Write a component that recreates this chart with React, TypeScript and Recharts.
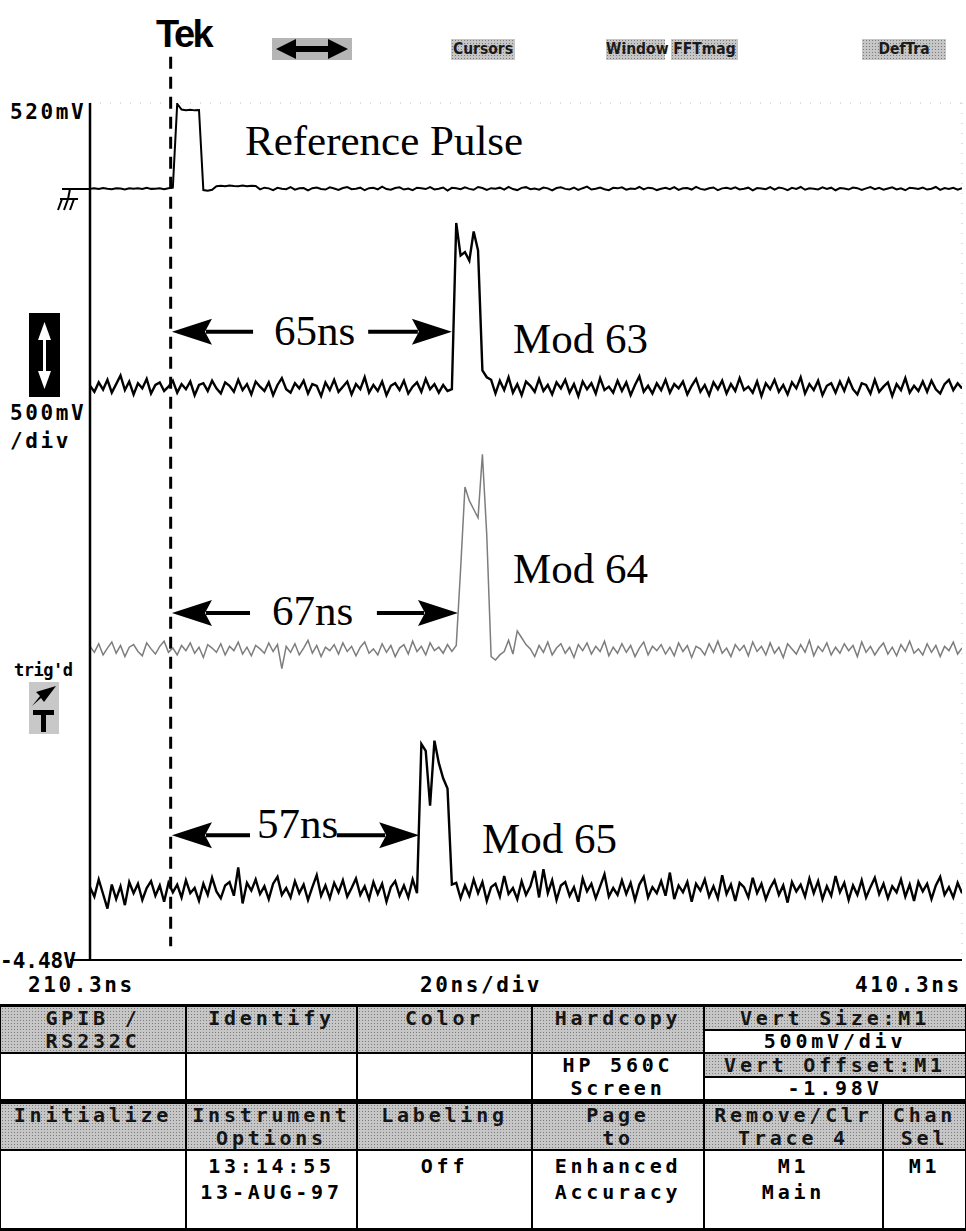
import { LineChart, Line, XAxis, YAxis, CartesianGrid, ReferenceLine } from 'recharts';

// record: 201 samples, 1 ns apart, starting at the left edge of the screen
const START_NS = 210.3;
const STEP_NS = 1;

const xTicks = [210.3, 230.3, 250.3, 270.3, 290.3, 310.3, 330.3, 350.3, 370.3, 390.3, 410.3];
const yTicks = [-4480, -3980, -3480, -2980, -2480, -1980, -1480, -980, -480, 20, 520];

// trace positions on screen (mV), traces below are read relative to these
const REF_BASE = 20;
const MOD63_BASE = -1140;
const MOD64_BASE = -2670;
const MOD65_BASE = -4070;

const refTrace = [
  0, 3, -2, 4, 0, -3, 2, 1, -4, 3,
  0, 2, -2, 5, -1, 0, 3, -3, 2, 6,
  495, 462, 458, 460, 457, 459,
  -8, -12, -6, 15, 17, 14, 18, 16, 15, 19, 14, 17, 16,
  -4, 6, 2, -8, 5, 0, -3, 9, -6, 2,
  4, -10, 3, 7, -2, -5, 8, 1, -7, 4,
  10, -3, 0, 6, -9, 3, 5, -4, 12, -2,
  -6, 4, 8, -5, 1, -8, 6, 3, -2, 9,
  -4, 0, 7, -11, 5, 2, -3, 8, -1, -6,
  10, 4, -7, 3, 0, 6, -5, 11, -2, -8,
  5, 9, -3, 1, -6, 7, 2, -10, 4, 8,
  -1, -4, 6, -7, 3, 12, -5, 0, 7, -3,
  -9, 5, 2, 8, -6, 1, -2, 10, -4, 6,
  3, -8, 0, 5, -3, 9, -7, 2, 4, -5,
  11, -1, -6, 3, 7, -9, 2, 5, -2, 8,
  -4, 0, 6, -10, 4, 1, -3, 9, -5, 7,
  2, -8, 5, -1, 10, -6, 3, 0, -4, 8,
  -2, 6, -9, 4, 1, -5, 7, 3, -7, 2,
  9, -3, 5, -6, 1, 8, -4, 2, -9, 6,
  3, -2, 7, -5, 0, 10, -7, 4, -1, 5,
  -6, 3,
];

const mod63Trace = [
  10, -25, 30, -12, 45, -30, 20, 70, -15, 35,
  -40, 25, -5, 50, -35, 15, 30, -20, 5, 40,
  -30, 20, -10, 35, -45, 15, 25, -20, 40, -5,
  -35, 30, 10, -25, 45, -15, 20, -40, 35, 5,
  -20, 30, -45, 15, 55, -10, -30, 25, -5, 40,
  -35, 20, 10, -50, 30, -15, 45, -25, 5, 35,
  -40, 20, -10, 60, -30, 15, -20, 35, -45, 10,
  25, -15, 40, -35, 5, 30, -25, 50, -10, 20,
  -30, 15, -20, -10,
  960, 770, 790, 740, 910, 800, 100,
  60, 45, -35, 40, -15, 60, -30, 20, -45, 35,
  10, -25, 50, -20, 15, -40, 30, -5, 45, -30,
  20, -50, 35, -10, 25, -35, 55, -15, 5, -30,
  40, -20, 30, -45, 15, 65, -25, 10, -35, 25,
  -15, 45, -30, 20, -5, 35, -40, 10, 50, -25,
  15, -45, 30, -10, 40, -35, 20, -20, 55, -15,
  5, -30, 35, -50, 25, -10, 45, -25, 15, -40,
  30, -5, 60, -35, 20, -15, 40, -45, 10, 25,
  -30, 35, -20, 50, -10, -40, 25, 15, -35, 45,
  -25, 5, 30, -50, 20, -15, 55, -30, 10, -20,
  35, -25, 40, -10, -35, 20, 45, -15, 25, -5,
];

const mod64Trace = [
  20, -15, 35, -30, 10, 45, -20, 25, -40, 15,
  30, -10, -35, 40, 5, -25, 20, 50, -15, 10,
  -30, 25, -5, 40, -20, 15, -45, 30, 10, -15,
  35, -30, 20, -5, 45, -25, 15, -35, 25, 5,
  -20, 40, -10, 30, -110, 20, -15, 35, -30, 10,
  55, -20, 25, -40, 15, -5, 30, -25, 40, -10,
  20, -35, 15, 45, -20, 5, -30, 35, -15, 25,
  -40, 10, 30, -25, 50, -10, 20, -30, 40, -5,
  15, -20, 30, -10, 25,
  470, 950, 870, 820, 770, 1140, 670, -40,
  -60, -30, -10, 55, -25, 110, 70, 30, 5, -40,
  25, -15, 45, -30, 10, 35, -20, 15, -45, 30,
  -5, 40, -25, 20, -10, 50, -35, 15, -20, 35,
  -15, 25, -40, 10, 45, -30, 20, -5, 30, -25,
  15, -35, 40, -10, 25, -45, 20, 5, -30, 35,
  -15, 50, -20, 10, -40, 30, -5, 25, -35, 45,
  -10, 20, -30, 40, -20, 15, -45, 35, 5, -25,
  30, -15, 55, -35, 20, -10, 40, -30, 15, -20,
  35, -5, 25, -40, 45, -15, 20, -30, 10, 40,
  -25, 15, -35, 30, -10, 50, -20, 5, -30, 35,
  -15, 25, -40, 20, -5, 45, -25, 10,
];

const mod65Trace = [
  15, -40, 60, -25, -110, 30, -55, 20, -90, 45,
  -20, 35, -60, 10, 50, -35, 25, -70, 40, -15,
  30, -45, 55, -20, 10, -65, 35, -30, 70, -10,
  -50, 25, 45, -35, 130, -80, 40, -5, 60, -25,
  20, -55, 35, 75, -30, 10, -45, 50, -20, 30,
  -60, 15, 85, -35, 25, -50, 40, -15, 55, -40,
  10, 65, -30, 20, -55, 45, -25, 35, -70, 15,
  50, -35, 25, -45, 60, -20,
  850, 810, 490, 870, 740, 650, 590,
  30, 40, -50, 25, -35, 60, -20, 45, -65, 15,
  35, -40, 80, -25, 10, -55, 50, -30, 20, 110,
  -45, 120, -20, 55, -60, 25, 45, -35, 15, -70,
  65, -10, 35, -50, 20, 90, -40, 10, -30, 55,
  -25, 40, -60, 30, 75, -45, 15, -20, 50, -35,
  100, -55, 25, -15, 45, -70, 35, -5, 60, -40,
  20, -50, 85, -25, 30, -65, 40, 15, -45, 70,
  -20, 35, -55, 10, 55, -30, 25, -75, 45, -10,
  30, -40, 65, -20, 50, -55, 20, -35, 80, -15,
  40, -60, 25, -30, 55, -45, 15, 70, -25, 35,
  -50, 20, -15, 60, -40, 30, -65, 45, -10, 35,
  -55, 25, 75, -30, 15, -45, 40, -20,
];

// cursor and delay measurements
const CURSOR_NS = 228.8;
const CURSOR_TOP_MV = 790;
const CURSOR_BOTTOM_MV = -4400;
const spanLabels = ['65ns', '67ns', '57ns'];
const spanEndNs = [293.3, 294.7, 285.8];
const spanLevelMv = [-815, -2455, -3752];
const gapStartNs = [247.7, 247.0, 247.0];
const gapEndNs = [274.1, 276.1, 266.9];

const data = refTrace.map((v, i) => ({
  t: Math.round((START_NS + i * STEP_NS) * 10) / 10,
  ref: REF_BASE + v,
  mod63: MOD63_BASE + mod63Trace[i],
  mod64: MOD64_BASE + mod64Trace[i],
  mod65: MOD65_BASE + mod65Trace[i],
}));

const MONO = '"DejaVu Sans Mono", "Liberation Mono", monospace';
const SERIF = '"Liberation Serif", "DejaVu Serif", serif';

const shade = {
  backgroundColor: '#c6c6c6',
  backgroundImage: 'radial-gradient(circle, #7c7c7c 0.7px, transparent 0.9px)',
  backgroundSize: '3px 3px',
};

const ArrowShape = (props: any) => {
  const { x1, y1, x2, y2 } = props;
  if (x1 == null || x2 == null) return <g />;
  const dir = Math.sign(x2 - x1) || 1;
  const headLen = 40;
  const half = 13;
  const bx = x2 - dir * headLen;
  return (
    <g>
      <line x1={x1} y1={y1} x2={bx + dir * 6} y2={y2} stroke="#000" strokeWidth={4} />
      <polygon
        points={`${x2},${y2} ${bx},${y2 - half} ${bx + dir * 7},${y2} ${bx},${y2 + half}`}
        fill="#000"
      />
    </g>
  );
};

type Cell = { x: number; y: number; w: number; h: number; shaded?: boolean; lines: string[]; pad?: number; lh?: number };

const cells: Cell[] = [
  { x: 0, y: 1006, w: 186, h: 47, shaded: true, lines: ['GPIB /', 'RS232C'], pad: 0, lh: 23 },
  { x: 0, y: 1053, w: 186, h: 47, lines: [] },
  { x: 186, y: 1006, w: 171, h: 47, shaded: true, lines: ['Identify'], pad: 0, lh: 23 },
  { x: 186, y: 1053, w: 171, h: 47, lines: [] },
  { x: 357, y: 1006, w: 175, h: 47, shaded: true, lines: ['Color'], pad: 0, lh: 23 },
  { x: 357, y: 1053, w: 175, h: 47, lines: [] },
  { x: 532, y: 1006, w: 172, h: 47, shaded: true, lines: ['Hardcopy'], pad: 0, lh: 23 },
  { x: 532, y: 1053, w: 172, h: 47, lines: ['HP 560C', 'Screen'], pad: 0, lh: 23 },
  { x: 704, y: 1006, w: 262, h: 24, shaded: true, lines: ['Vert Size:M1'], pad: 0, lh: 22 },
  { x: 704, y: 1030, w: 262, h: 23, lines: ['500mV/div'], pad: 0, lh: 21 },
  { x: 704, y: 1053, w: 262, h: 24, shaded: true, lines: ['Vert Offset:M1'], pad: 0, lh: 22 },
  { x: 704, y: 1077, w: 262, h: 23, lines: ['-1.98V'], pad: 0, lh: 21 },
  { x: 0, y: 1103, w: 186, h: 47, shaded: true, lines: ['Initialize'], pad: 0, lh: 23 },
  { x: 0, y: 1150, w: 186, h: 79, lines: [] },
  { x: 186, y: 1103, w: 171, h: 47, shaded: true, lines: ['Instrument', 'Options'], pad: 0, lh: 23 },
  { x: 186, y: 1150, w: 171, h: 79, lines: ['13:14:55', '13-AUG-97'], pad: 2, lh: 26 },
  { x: 357, y: 1103, w: 175, h: 47, shaded: true, lines: ['Labeling'], pad: 0, lh: 23 },
  { x: 357, y: 1150, w: 175, h: 79, lines: ['Off'], pad: 2, lh: 26 },
  { x: 532, y: 1103, w: 172, h: 47, shaded: true, lines: ['Page', 'to'], pad: 0, lh: 23 },
  { x: 532, y: 1150, w: 172, h: 79, lines: ['Enhanced', 'Accuracy'], pad: 2, lh: 26 },
  { x: 704, y: 1103, w: 179, h: 47, shaded: true, lines: ['Remove/Clr', 'Trace 4'], pad: 0, lh: 23 },
  { x: 704, y: 1150, w: 179, h: 79, lines: ['M1', 'Main'], pad: 2, lh: 26 },
  { x: 883, y: 1103, w: 83, h: 47, shaded: true, lines: ['Chan', 'Sel'], pad: 0, lh: 23 },
  { x: 883, y: 1150, w: 83, h: 79, lines: ['M1'], pad: 2, lh: 26 },
];

const buttons = [
  { text: 'Cursors', left: 451, width: 64 },
  { text: 'Window', left: 606, width: 59 },
  { text: 'FFTmag', left: 671, width: 67 },
  { text: 'DefTra', left: 862, width: 84 },
];

const abs = (left: number, top: number, extra: any = {}) => ({ position: 'absolute' as const, left, top, ...extra });

const labelText = { fontFamily: MONO, fontWeight: 700, fontSize: 21, letterSpacing: 2.6, lineHeight: 1, color: '#000', whiteSpace: 'pre' as const };
const noteText = { fontFamily: SERIF, fontSize: 43, lineHeight: 1, color: '#000', whiteSpace: 'pre' as const };

export default function App() {
  return (
    <div style={{ position: 'absolute', left: 0, top: 0, width: 966, height: 1231, background: '#fff', overflow: 'hidden' }}>
      <div style={abs(0, 0)}>
        <LineChart width={966} height={1000} data={data} margin={{ top: 103, right: 4, bottom: 39, left: 0 }}>
          <CartesianGrid stroke="#bdbdbd" strokeDasharray="1 9" />
          <XAxis
            dataKey="t"
            type="number"
            domain={[210.3, 410.3]}
            ticks={xTicks}
            tick={false}
            tickLine={false}
            axisLine={{ stroke: '#000', strokeWidth: 2 }}
            height={1}
            allowDataOverflow
          />
          <YAxis
            type="number"
            domain={[-4480, 520]}
            ticks={yTicks}
            tick={false}
            tickLine={false}
            axisLine={{ stroke: '#000', strokeWidth: 2.5 }}
            width={90}
            allowDataOverflow
          />
          <ReferenceLine
            segment={[{ x: CURSOR_NS, y: CURSOR_TOP_MV }, { x: CURSOR_NS, y: CURSOR_BOTTOM_MV }]}
            ifOverflow="visible"
            stroke="#000"
            strokeWidth={3}
            strokeDasharray="12 8"
          />
          <Line type="linear" dataKey="ref" stroke="#000" strokeWidth={2} dot={false} isAnimationActive={false} />
          <Line type="linear" dataKey="mod63" stroke="#000" strokeWidth={2.4} dot={false} isAnimationActive={false} />
          <Line type="linear" dataKey="mod64" stroke="#7d7d7d" strokeWidth={1.5} dot={false} isAnimationActive={false} />
          <Line type="linear" dataKey="mod65" stroke="#000" strokeWidth={2.4} dot={false} isAnimationActive={false} />
          {spanLabels.map((s, i) => (
            <ReferenceLine
              key={s + 'l'}
              segment={[{ x: gapStartNs[i], y: spanLevelMv[i] }, { x: CURSOR_NS + 0.3, y: spanLevelMv[i] }]}
              shape={ArrowShape}
            />
          ))}
          {spanLabels.map((s, i) => (
            <ReferenceLine
              key={s + 'r'}
              segment={[{ x: gapEndNs[i], y: spanLevelMv[i] }, { x: spanEndNs[i], y: spanLevelMv[i] }]}
              shape={ArrowShape}
            />
          ))}
        </LineChart>
      </div>

      <svg width={966} height={1231} style={abs(0, 0, { pointerEvents: 'none' })}>
        {/* ground marker */}
        <line x1={62} y1={189} x2={90} y2={189} stroke="#000" strokeWidth={2} />
        <line x1={70} y1={189} x2={68} y2={199} stroke="#000" strokeWidth={2} />
        <line x1={60} y1={199} x2={78} y2={199} stroke="#000" strokeWidth={2} />
        <line x1={62} y1={199} x2={58} y2={210} stroke="#000" strokeWidth={2} />
        <line x1={68} y1={199} x2={64} y2={210} stroke="#000" strokeWidth={2} />
        <line x1={74} y1={199} x2={70} y2={210} stroke="#000" strokeWidth={2} />
        {/* bottom line extends under the -4.48V label */}
        <line x1={70} y1={960} x2={91} y2={960} stroke="#000" strokeWidth={2} />
        {/* vertical position box */}
        <rect x={29} y={313} width={31} height={84} fill="#000" />
        <line x1={44.5} y1={330} x2={44.5} y2={380} stroke="#fff" strokeWidth={3} />
        <polygon points="44.5,322 38,340 51,340" fill="#fff" />
        <polygon points="44.5,389 38,371 51,371" fill="#fff" />
        {/* trigger icon */}
        <rect x={29} y={682} width={30} height={52} fill="#c8c8c8" />
        <polygon points="56,686 44,702 41,698 32,706 40,696 36,692" fill="#000" />
        <rect x={33} y={710} width={21} height={5} fill="#000" />
        <rect x={41} y={710} width={5} height={22} fill="#000" />
        {/* horizontal position button */}
        <rect x={272} y={38} width={80} height={22} fill="#b5b5b5" />
        <line x1={290} y1={49} x2={334} y2={49} stroke="#000" strokeWidth={6} />
        <polygon points="276,49 296,39 296,59" fill="#000" />
        <polygon points="348,49 328,39 328,59" fill="#000" />
      </svg>

      <div style={abs(156, 15, { fontFamily: '"Liberation Sans", Arial, sans-serif', fontWeight: 700, fontSize: 38, letterSpacing: -2.5, lineHeight: 1 })}>Tek</div>
      {buttons.map((b) => (
        <div
          key={b.text}
          style={abs(b.left, 39, {
            ...shade,
            width: b.width,
            height: 21,
            fontFamily: '"DejaVu Sans", sans-serif',
            fontStretch: 'condensed',
            fontWeight: 700,
            fontSize: 15.5,
            lineHeight: '21px',
            textAlign: 'center',
            color: '#1a1a1a',
            whiteSpace: 'nowrap',
          })}
        >
          {b.text}
        </div>
      ))}

      <div style={abs(10, 102, labelText)}>520mV</div>
      <div style={abs(10, 403, labelText)}>500mV</div>
      <div style={abs(10, 431, labelText)}>/div</div>
      <div style={abs(0, 951, { ...labelText, letterSpacing: 0 })}>-4.48V</div>
      <div style={abs(14, 662, { ...labelText, fontSize: 17, letterSpacing: -0.5 })}>trig'd</div>
      <div style={abs(28, 975, labelText)}>210.3ns</div>
      <div style={abs(420, 975, labelText)}>20ns/div</div>
      <div style={abs(855, 975, labelText)}>410.3ns</div>

      <div style={abs(245, 119, noteText)}>Reference Pulse</div>
      <div style={abs(513, 317, noteText)}>Mod 63</div>
      <div style={abs(513, 547, noteText)}>Mod 64</div>
      <div style={abs(482, 817, noteText)}>Mod 65</div>
      <div style={abs(274, 309, noteText)}>{spanLabels[0]}</div>
      <div style={abs(272, 589, noteText)}>{spanLabels[1]}</div>
      <div style={abs(257, 802, noteText)}>{spanLabels[2]}</div>

      <div style={abs(0, 1004, { width: 966, height: 227, background: '#000' })} />
      {cells.map((c, i) => (
        <div
          key={i}
          style={abs(c.x, c.y, {
            ...(c.shaded ? shade : { background: '#fff' }),
            width: c.w,
            height: c.h,
            boxSizing: 'border-box',
            border: '1px solid #000',
            paddingTop: c.pad ?? 0,
            fontFamily: MONO,
            fontWeight: 700,
            fontSize: 20,
            letterSpacing: 3.8,
            lineHeight: `${c.lh ?? 22}px`,
            textAlign: 'center',
            color: c.shaded ? '#151515' : '#000',
            whiteSpace: 'pre',
          })}
        >
          {c.lines.map((l) => (
            <div key={l}>{l}</div>
          ))}
        </div>
      ))}
    </div>
  );
}
